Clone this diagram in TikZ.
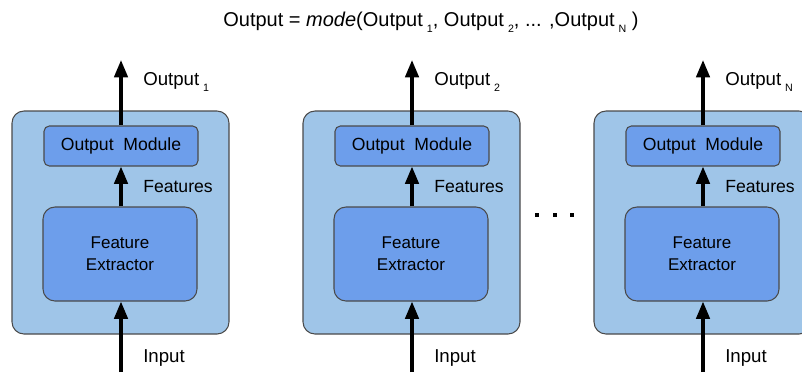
\documentclass[tikz,border=0pt]{standalone}
\usepackage{fontspec}
\setmainfont{Liberation Sans}
\usetikzlibrary{arrows.meta}
\definecolor{outerblue}{HTML}{9FC5E8}
\definecolor{innerblue}{HTML}{6D9EEB}
\definecolor{edgegray}{HTML}{4A4A4A}
\newcommand{\sub}[1]{\hspace{0.2em}\raisebox{-0.6ex}{\fontsize{8}{9}\selectfont #1}}
\begin{document}
\begin{tikzpicture}[x=0.75pt, y=-0.75pt,
  modelbox/.style={draw=edgegray, line width=0.8pt, fill=outerblue, rounded corners=9pt, minimum width=162.75pt, minimum height=167.25pt},
  outmod/.style={draw=edgegray, line width=0.8pt, fill=innerblue, rounded corners=4pt, minimum width=115.5pt, minimum height=30pt, font=\fontsize{13.2}{15}\selectfont},
  featext/.style={draw=edgegray, line width=0.8pt, fill=innerblue, rounded corners=9pt, minimum width=115.5pt, minimum height=70.5pt, align=center, font=\fontsize{12.75}{16.5}\selectfont},
  flow/.style={line width=2.6pt, -{Triangle[width=10pt,length=13pt]}},
  lbl/.style={anchor=west, inner sep=0pt, font=\fontsize{14}{16}\selectfont},
  featlbl/.style={lbl, font=\fontsize{13.2}{16}\selectfont},
  dot/.style={fill=black, minimum size=3.4pt, inner sep=0pt}]
			\useasboundingbox (0,0) rectangle (802,372);
			% title
			\node[font=\fontsize{15}{17}\selectfont] (title) at (431,22) {Output = \textit{mode}(Output\sub{1}, Output\sub{2}, ... ,Output\sub{N} )};
			% first model
			\node[modelbox] (box1) at (120.5,222.5) {};
			\node[outmod] (om1) at (121,146) {Output~~Module};
			\node[featext] (fe1) at (120,254) {Feature\\Extractor};
			\coordinate (in1) at (121,372);
			\coordinate (out1) at (121,60);
			\draw[flow] (in1) -- (fe1.south -| in1);
			\draw[flow] (fe1.north -| in1) -- (om1.south -| in1);
			\draw[flow] (om1.north -| in1) -- (out1);
			\node[lbl] (o1) at (143,82) {Output\sub{1}};
			\node[featlbl] (f1) at (143,187) {Features};
			\node[lbl] (i1) at (143,358) {Input};
			% second model
			\node[modelbox] (box2) at (411.5,222.5) {};
			\node[outmod] (om2) at (412,146) {Output~~Module};
			\node[featext] (fe2) at (411,254) {Feature\\Extractor};
			\coordinate (in2) at (412,372);
			\coordinate (out2) at (412,60);
			\draw[flow] (in2) -- (fe2.south -| in2);
			\draw[flow] (fe2.north -| in2) -- (om2.south -| in2);
			\draw[flow] (om2.north -| in2) -- (out2);
			\node[lbl] (o2) at (434,82) {Output\sub{2}};
			\node[featlbl] (f2) at (434,187) {Features};
			\node[lbl] (i2) at (434,358) {Input};
			% dots
			\node[dot] (d1) at (537,215) {};
			\node[dot] (d2) at (555,215) {};
			\node[dot] (d3) at (572,215) {};
			% last model
			\node[modelbox] (box3) at (702.5,222.5) {};
			\node[outmod] (om3) at (703,146) {Output~~Module};
			\node[featext] (fe3) at (702,254) {Feature\\Extractor};
			\coordinate (in3) at (703,372);
			\coordinate (out3) at (703,60);
			\draw[flow] (in3) -- (fe3.south -| in3);
			\draw[flow] (fe3.north -| in3) -- (om3.south -| in3);
			\draw[flow] (om3.north -| in3) -- (out3);
			\node[lbl] (o3) at (725,82) {Output\sub{N}};
			\node[featlbl] (f3) at (725,187) {Features};
			\node[lbl] (i3) at (725,358) {Input};
		\end{tikzpicture}
\end{document}
